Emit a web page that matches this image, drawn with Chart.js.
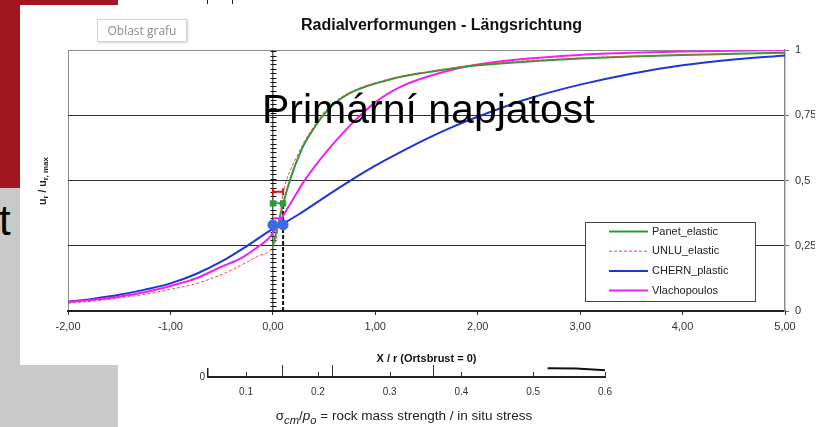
<!DOCTYPE html>
<html>
<head>
<meta charset="utf-8">
<script src="https://cdn.jsdelivr.net/npm/chart.js@4.4.1/dist/chart.umd.min.js"></script>
<style>
  html, body { margin: 0; padding: 0; }
  body { width: 822px; height: 427px; position: relative; overflow: hidden; background: #fff;
         font-family: 'Liberation Sans', Arial, sans-serif; }
  .abs { position: absolute; }
  #main { position: absolute; left: 0; top: 0; }
  #inset { position: absolute; left: 150px; top: 360px; }
</style>
</head>
<body>
<!-- slide background behind the embedded chart -->
<div class="abs" style="left:0;top:0;width:118px;height:5px;background:#a3161f"></div>
<div class="abs" style="left:0;top:0;width:20px;height:188px;background:#a3161f"></div>
<div class="abs" style="left:0;top:188px;width:20px;height:177px;background:#c9c9c9"></div>
<div class="abs" style="left:0;top:365px;width:118px;height:62px;background:#c9c9c9"></div>
<div class="abs" style="left:-1px;top:200px;font-size:42px;line-height:42px;color:#000">t</div>
<div class="abs" style="left:207px;top:0;width:1px;height:4px;background:#222"></div>
<div class="abs" style="left:232px;top:0;width:1px;height:4px;background:#222"></div>

<canvas id="main" width="822" height="427"></canvas>
<canvas id="inset" width="475" height="67"></canvas>

<div class="abs" style="left:97px;top:19px;width:88px;height:21px;border:1px solid #d4d4d4;box-shadow:1px 1px 2px rgba(0,0,0,0.18);background:#fff;color:#8a8a8a;font-family:'Open Sans',sans-serif;font-size:12px;line-height:21px;text-align:center">Oblast grafu</div>
<div class="abs" style="left:262px;top:89px;font-size:41px;line-height:41px;color:#000;white-space:nowrap">Primární napjatost</div>
<div class="abs" style="left:250px;top:408px;width:308px;text-align:center;font-size:13.5px;line-height:16px;color:#222;white-space:nowrap">&sigma;<sub><i>cm</i></sub>/<i>p</i><sub><i>o</i></sub> = rock mass strength / in situ stress</div>

<script>
(function () {
  'use strict';

  // ── values (x = X/r, y = u_r / u_r,max) ─────────────────────────────
  var panetX = [0, 0.05, 0.1, 0.15, 0.2, 0.25, 0.3, 0.4, 0.5, 0.6, 0.75, 0.9, 1.0, 1.25, 1.5, 1.75, 2.0, 2.5, 3.0, 3.5, 4.0, 4.5, 5.0];
  var panetY = [0.25, 0.33, 0.41, 0.48, 0.54, 0.59, 0.635, 0.70, 0.755, 0.795, 0.835, 0.86, 0.872, 0.898, 0.915, 0.93, 0.942, 0.957, 0.968, 0.976, 0.982, 0.986, 0.99];

  var unluX = [-2, -1.75, -1.5, -1.25, -1, -0.75, -0.5, -0.3, -0.15, 0, 0.04, 0.07, 0.1, 0.15, 0.2, 0.25, 0.3, 0.4, 0.5, 0.6, 0.75, 0.9, 1.0, 1.25, 1.5, 2.0, 2.5, 3.0, 3.5, 4.0, 4.5, 5.0];
  var unluY = [0.03, 0.038, 0.05, 0.064, 0.083, 0.105, 0.14, 0.178, 0.21, 0.245, 0.29, 0.37, 0.45, 0.52, 0.565, 0.605, 0.645, 0.707, 0.762, 0.80, 0.838, 0.862, 0.875, 0.9, 0.917, 0.945, 0.96, 0.97, 0.977, 0.982, 0.986, 0.99];

  var chernX = [-2, -1.75, -1.5, -1.25, -1, -0.75, -0.5, -0.25, 0, 0.1, 0.25, 0.5, 0.75, 1, 1.25, 1.5, 1.75, 2, 2.5, 3, 3.5, 4, 4.5, 5];
  var chernY = [0.035, 0.047, 0.062, 0.082, 0.106, 0.142, 0.19, 0.25, 0.315, 0.335, 0.37, 0.435, 0.498, 0.557, 0.61, 0.66, 0.705, 0.745, 0.815, 0.868, 0.91, 0.942, 0.964, 0.98];

  var vlachX = [-2, -1.75, -1.5, -1.25, -1, -0.75, -0.5, -0.3, -0.15, -0.05, 0, 0.1, 0.2, 0.3, 0.4, 0.5, 0.75, 1.0, 1.25, 1.5, 1.75, 2.0, 2.5, 3.0, 3.5, 4.0, 4.5, 5.0];
  var vlachY = [0.035, 0.043, 0.055, 0.072, 0.096, 0.125, 0.17, 0.205, 0.245, 0.275, 0.30, 0.365, 0.43, 0.495, 0.55, 0.60, 0.71, 0.80, 0.86, 0.897, 0.925, 0.945, 0.968, 0.982, 0.99, 0.995, 0.998, 1.0];

  var seriesNames = ['Panet_elastic', 'UNLU_elastic', 'CHERN_plastic', 'Vlachopoulos'];

  // face (x = 0) and the 0.1 r markers
  var faceX      = [0, 0.1];
  var redBarY    = [0.457, 0.457];
  var greenBarY  = [0.413, 0.413];
  var pinkBarY   = [0.356, 0.356];
  var blueDotY   = [0.33, 0.33];
  var guideY     = [0, 1];
  var dashGuideY = [0, 0.42];

  var xTicks      = [-2, -1, 0, 1, 2, 3, 4, 5];
  var xTickLabels = ['-2,00', '-1,00', '0,00', '1,00', '2,00', '3,00', '4,00', '5,00'];
  var yTicks      = [0, 0.25, 0.5, 0.75, 1];
  var yTickLabels = ['0', '0,25', '0,5', '0,75', '1'];

  // inset strip (sigma_cm / p_o axis)
  var insetTicks      = [0.1, 0.2, 0.3, 0.4, 0.5, 0.6];
  var insetTickLabels = ['0.1', '0.2', '0.3', '0.4', '0.5', '0.6'];
  var insetMarks      = [0.15, 0.22, 0.36];
  var wedgeX          = [0.52, 0.56, 0.6];
  var wedgeY          = [1.1, 1.05, 0.85];

  var FONT = "'Liberation Sans', Arial, sans-serif";
  var GREEN = '#2a9d3a', RED = '#ee4848', BLUE = '#1f35d8', PINK = '#f020ee';

  function pts(xs, ys) {
    return xs.map(function (x, i) { return { x: x, y: ys[i] }; });
  }
  function vert(x, ys) { return ys.map(function (y) { return { x: x, y: y }; }); }

  function curve(label, xs, ys, color, width, dash, order) {
    return {
      label: label, data: pts(xs, ys), showLine: true,
      borderColor: color, backgroundColor: color, borderWidth: width,
      borderDash: dash, pointRadius: 0, cubicInterpolationMode: 'monotone',
      order: order,
    };
  }

  // ── plugins ─────────────────────────────────────────────────────────
  var faceTicks = {
    id: 'faceTicks',
    beforeDatasetsDraw: function (chart) {
      var ctx = chart.ctx, a = chart.chartArea;
      var x = Math.round(chart.scales.x.getPixelForValue(faceX[0])) + 0.5;
      ctx.save();
      ctx.strokeStyle = '#111';
      ctx.lineWidth = 1;
      ctx.beginPath();
      for (var y = a.top + 1; y < a.bottom; y += 4.4) {
        ctx.moveTo(x - 3, Math.round(y) + 0.5);
        ctx.lineTo(x + 3, Math.round(y) + 0.5);
      }
      ctx.stroke();
      ctx.restore();
    }
  };

  var boxLegend = {
    id: 'boxLegend',
    afterDatasetsDraw: function (chart) {
      var ctx = chart.ctx;
      var bx = 585.5, by = 222.5, bw = 170, bh = 79;
      ctx.save();
      ctx.fillStyle = '#fff';
      ctx.fillRect(bx, by, bw, bh);
      ctx.strokeStyle = '#444';
      ctx.lineWidth = 1;
      ctx.strokeRect(bx, by, bw, bh);
      ctx.font = '11px ' + FONT;
      ctx.textBaseline = 'middle';
      ctx.textAlign = 'left';
      for (var i = 0; i < seriesNames.length; i++) {
        var ds = chart.data.datasets[i];
        var ly = 231.5 + i * 19.7;
        ctx.strokeStyle = ds.borderColor;
        ctx.lineWidth = ds.borderWidth;
        ctx.setLineDash(ds.borderDash || []);
        ctx.beginPath();
        ctx.moveTo(609, ly);
        ctx.lineTo(648, ly);
        ctx.stroke();
        ctx.setLineDash([]);
        ctx.fillStyle = '#222';
        ctx.fillText(ds.label, 652, ly);
      }
      ctx.restore();
    }
  };

  var yTitle = {
    id: 'yTitle',
    afterDraw: function (chart) {
      var ctx = chart.ctx;
      var parts = [['u', 10.5, 0], ['r', 8, 2.5], [' / u', 10.5, 0], ['r, max', 8, 2.5]];
      ctx.save();
      ctx.translate(43, 181);
      ctx.rotate(-Math.PI / 2);
      ctx.fillStyle = '#222';
      ctx.textBaseline = 'middle';
      var w = 0;
      parts.forEach(function (p) { ctx.font = 'bold ' + p[1] + 'px ' + FONT; w += ctx.measureText(p[0]).width; });
      var x = -w / 2;
      parts.forEach(function (p) {
        ctx.font = 'bold ' + p[1] + 'px ' + FONT;
        ctx.fillText(p[0], x, p[2]);
        x += ctx.measureText(p[0]).width;
      });
      ctx.restore();
    }
  };

  // ── main chart ──────────────────────────────────────────────────────
  new Chart(document.getElementById('main'), {
    type: 'scatter',
    data: {
      datasets: [
        curve(seriesNames[0], panetX, panetY, GREEN, 2, [], 3),
        curve(seriesNames[1], unluX, unluY, RED, 1, [3, 2], 2),
        curve(seriesNames[2], chernX, chernY, BLUE, 2, [], 4),
        curve(seriesNames[3], vlachX, vlachY, PINK, 2, [], 3),
        { label: '', data: vert(faceX[0], guideY), showLine: true, borderColor: '#111', borderWidth: 1, pointRadius: 0, order: 10 },
        { label: '', data: vert(faceX[1], dashGuideY), showLine: true, borderColor: '#111', borderWidth: 2, borderDash: [4, 2], pointRadius: 0, order: 9 },
        { label: '', data: pts(faceX, redBarY), showLine: true, borderColor: '#e01010', backgroundColor: '#e01010', borderWidth: 2,
          pointStyle: 'line', rotation: 90, pointRadius: 3.5, pointBorderWidth: 2, order: 1 },
        { label: '', data: pts(faceX, greenBarY), showLine: true, borderColor: GREEN, backgroundColor: GREEN, borderWidth: 2,
          pointStyle: 'rect', pointRadius: 3, order: 1 },
        { label: '', data: pts(faceX, pinkBarY), showLine: true, borderColor: PINK, borderWidth: 2, pointRadius: 0, order: 1 },
        { label: '', data: pts(faceX, blueDotY), showLine: false, borderColor: '#3a6cea', backgroundColor: '#3a6cea',
          pointRadius: 5, order: 0 },
      ],
    },
    options: {
      responsive: false,
      animation: false,
      devicePixelRatio: 1,
      layout: { padding: { left: 68, right: 7, top: 0, bottom: 61 } },
      plugins: {
        legend: { display: false },
        tooltip: { enabled: false },
        title: {
          display: true,
          text: 'Radialverformungen - Längsrichtung',
          color: '#111',
          font: { family: FONT, size: 16, weight: 'bold' },
          padding: { top: 16, bottom: 15 },
        },
      },
      scales: {
        x: {
          type: 'linear', min: -2, max: 5,
          afterBuildTicks: function (s) { s.ticks = xTicks.map(function (v) { return { value: v }; }); },
          afterFit: function (s) { s.height = 55; },
          ticks: {
            color: '#333', font: { family: FONT, size: 11 }, padding: 5, maxRotation: 0,
            callback: function (v) { return xTickLabels[xTicks.indexOf(v)]; },
          },
          grid: {
            drawOnChartArea: true, tickLength: 4, tickColor: '#333',
            color: function (c) { return (c.tick && (c.tick.value === -2)) ? '#8c8c8c' : 'rgba(0,0,0,0)'; },
          },
          border: { color: '#222', width: 2 },
          title: {
            display: true, text: 'X / r (Ortsbrust = 0)', color: '#111',
            font: { family: FONT, size: 11, weight: 'bold' }, padding: { top: 0, bottom: 0 },
          },
        },
        y: {
          type: 'linear', position: 'right', min: 0, max: 1,
          afterBuildTicks: function (s) { s.ticks = yTicks.map(function (v) { return { value: v }; }); },
          afterFit: function (s) { s.width = 30; },
          ticks: {
            color: '#333', font: { family: FONT, size: 11 }, padding: 6,
            callback: function (v) { return yTickLabels[yTicks.indexOf(v)]; },
          },
          grid: {
            tickLength: 4, tickColor: '#666',
            color: function (c) { return (c.tick && c.tick.value === 1) ? '#8c8c8c' : '#2e2e2e'; },
          },
          border: { color: '#8c8c8c', width: 1.5 },
        },
      },
    },
    plugins: [faceTicks, boxLegend, yTitle],
  });

  // ── inset strip: sigma_cm / p_o scale ───────────────────────────────
  var stripMarks = {
    id: 'stripMarks',
    afterDraw: function (chart) {
      var ctx = chart.ctx, a = chart.chartArea, sx = chart.scales.x;
      ctx.save();
      ctx.strokeStyle = '#333';
      ctx.lineWidth = 1;
      ctx.beginPath();
      insetTicks.forEach(function (v) {
        var x = Math.round(sx.getPixelForValue(v)) + 0.5;
        ctx.moveTo(x, a.bottom); ctx.lineTo(x, a.bottom - 5);
      });
      insetMarks.forEach(function (v) {
        var x = Math.round(sx.getPixelForValue(v)) + 0.5;
        ctx.moveTo(x, a.bottom); ctx.lineTo(x, a.bottom - 12);
      });
      ctx.stroke();
      ctx.restore();
    }
  };

  new Chart(document.getElementById('inset'), {
    type: 'scatter',
    data: {
      datasets: [
        { data: pts(wedgeX, wedgeY), showLine: true, borderColor: '#111', borderWidth: 2, pointRadius: 0, clip: false },
      ],
    },
    options: {
      responsive: false,
      animation: false,
      devicePixelRatio: 1,
      layout: { padding: { left: 38, right: 20, top: 7, bottom: 30 } },
      plugins: { legend: { display: false }, tooltip: { enabled: false } },
      scales: {
        x: {
          type: 'linear', min: 0.047, max: 0.6,
          afterBuildTicks: function (s) { s.ticks = insetTicks.map(function (v) { return { value: v }; }); },
          afterFit: function (s) { s.height = 20; },
          ticks: {
            color: '#333', font: { family: FONT, size: 10 }, padding: 9, maxRotation: 0,
            callback: function (v) { return insetTickLabels[insetTicks.indexOf(v)]; },
          },
          grid: { display: false, drawTicks: false },
          border: { color: '#222', width: 2 },
        },
        y: {
          type: 'linear', position: 'left', min: 0, max: 1,
          afterBuildTicks: function (s) { s.ticks = [{ value: 0 }]; },
          afterFit: function (s) { s.width = 20; },
          ticks: { color: '#333', font: { family: FONT, size: 10 }, padding: 3, callback: function () { return '0'; } },
          grid: { display: false, drawTicks: false },
          border: { color: '#222', width: 1.5 },
        },
      },
    },
    plugins: [stripMarks],
  });
})();
</script>
</body>
</html>
